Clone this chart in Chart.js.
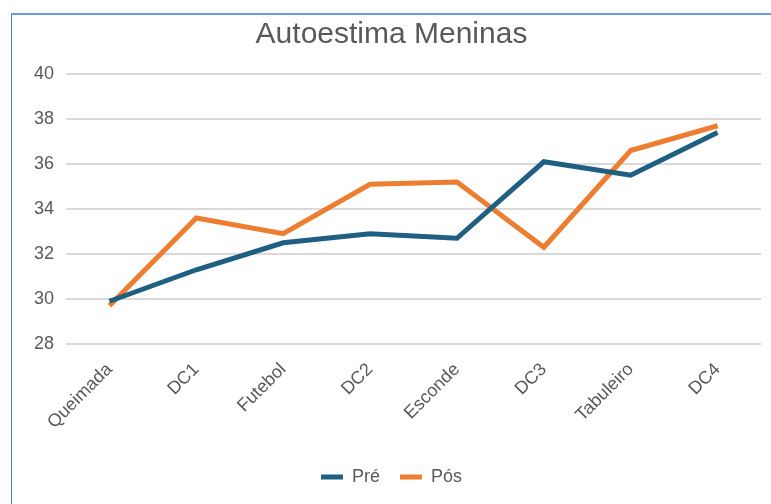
<!DOCTYPE html>
<html lang="pt">
  <head>
    <meta charset="UTF-8" />
    <title>Autoestima Meninas</title>
    <script src="https://cdn.jsdelivr.net/npm/chart.js"></script>
    <style>
      html, body { margin: 0; padding: 0; background: #fff; }
      #frame {
        position: absolute;
        left: 11px;
        top: 13px;
        width: 760px;
        height: 491px;
        border-left: 1px solid #4a7fd6;
        border-top: 2px solid #6f9be0;
        box-sizing: border-box;
      }
    </style>
  </head>
  <body>
    <div id="frame">
      <canvas id="myChart" width="759" height="489"></canvas>
    </div>

    <script>
      // dados
      const categorias = ["Queimada", "DC1", "Futebol", "DC2", "Esconde", "DC3", "Tabuleiro", "DC4"];
      const pre = [29.9, 31.3, 32.5, 32.9, 32.7, 36.1, 35.5, 37.4];
      const pos = [29.7, 33.6, 32.9, 35.1, 35.2, 32.3, 36.6, 37.7];
      const ticksY = [28, 30, 32, 34, 36, 38, 40];

      const cinza = "#595959";
      const fonte = "'Liberation Sans', Arial, sans-serif";

      const ctx = document.getElementById("myChart").getContext("2d");

      new Chart(ctx, {
        type: "line",
        data: {
          labels: categorias,
          datasets: [
            {
              label: "Pré",
              data: pre,
              borderColor: "#1f5f82",
              backgroundColor: "#1f5f82",
              borderWidth: 5,
              pointRadius: 0,
              tension: 0,
            },
            {
              label: "Pós",
              data: pos,
              borderColor: "#ed7d31",
              backgroundColor: "#ed7d31",
              borderWidth: 5,
              pointRadius: 0,
              tension: 0,
            },
          ],
        },
        options: {
          responsive: false,
          animation: false,
          layout: { padding: { left: 10, right: 10, top: 0, bottom: 8 } },
          plugins: {
            title: {
              display: true,
              text: "Autoestima Meninas",
              color: cinza,
              font: { family: fonte, size: 30, weight: "normal" },
              padding: { top: 2, bottom: 21 },
            },
            legend: {
              position: "bottom",
              labels: {
                usePointStyle: true,
                pointStyle: "line",
                pointStyleWidth: 22,
                color: cinza,
                font: { family: fonte, size: 18 },
                padding: 20,
              },
            },
            tooltip: { enabled: false },
          },
          scales: {
            x: {
              offset: true,
              grid: { display: false },
              border: { display: false },
              afterFit: (axis) => {
                axis.height += 8;
              },
              ticks: {
                color: cinza,
                font: { family: fonte, size: 18 },
                maxRotation: 45,
                minRotation: 45,
                padding: 7,
              },
            },
            y: {
              min: 28,
              max: 40,
              afterBuildTicks: (axis) => {
                axis.ticks = ticksY.map((v) => ({ value: v }));
              },
              grid: { color: "#d9d9d9", lineWidth: 2, drawTicks: false },
              border: { display: false },
              ticks: {
                color: cinza,
                font: { family: fonte, size: 18 },
                padding: 12,
              },
            },
          },
        },
      });
    </script>
  </body>
</html>
